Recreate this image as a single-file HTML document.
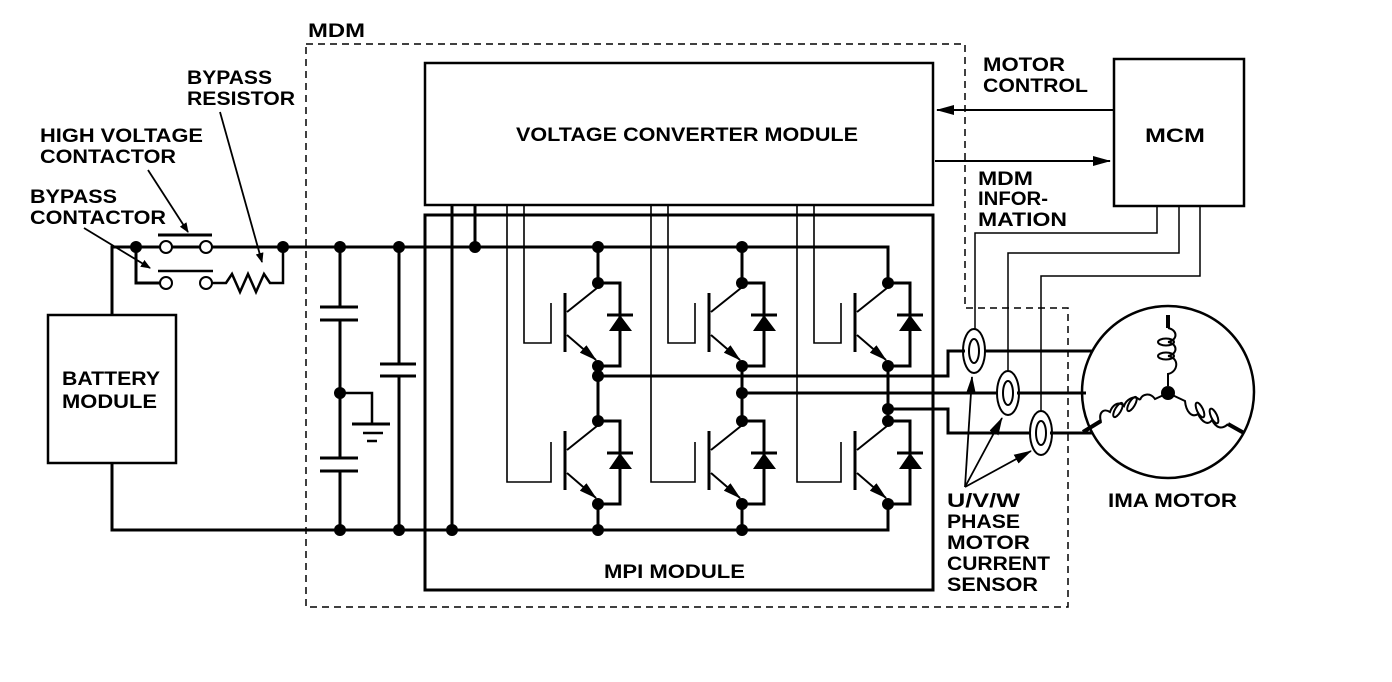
<!DOCTYPE html>
<html><head><meta charset="utf-8"><style>
html,body{margin:0;padding:0;background:#fff;}
svg{display:block;}
text{font-family:"Liberation Sans",sans-serif;font-weight:bold;font-size:19px;fill:#000;}
</style></head><body>
<svg width="1392" height="682" viewBox="0 0 1392 682" xmlns="http://www.w3.org/2000/svg">
<defs>
<marker id="ah" markerWidth="10" markerHeight="8" refX="9" refY="4" orient="auto" markerUnits="userSpaceOnUse" viewBox="0 0 10 8">
<path d="M0,0 L10,4 L0,8 Z" fill="#000"/></marker>
<marker id="ah2" markerWidth="18" markerHeight="10" refX="17" refY="5" orient="auto" markerUnits="userSpaceOnUse" viewBox="0 0 18 10">
<path d="M0,0 L18,5 L0,10 Z" fill="#000"/></marker>
</defs>
<g fill="none" stroke="#000">
<path d="M306,44 H965 V308 H1068 V607 H306 Z" stroke-width="1.5" stroke-dasharray="7,5"/>
<rect x="425" y="63" width="508" height="142" stroke-width="2.5"/>
<rect x="425" y="215" width="508" height="375" stroke-width="3"/>
<rect x="1114" y="59" width="130" height="147" stroke-width="2.5"/>
<rect x="48" y="315" width="128" height="148" stroke-width="2.5"/>
<path d="M112,315 V247 H888 V283" stroke-width="3"/>
<path d="M112,463 V530 H888 V502" stroke-width="3"/>
<path d="M136,247 V283 H160" stroke-width="3"/>
<path d="M158,235 H212" stroke-width="3"/>
<path d="M158,271 H213" stroke-width="2.5"/>
<path d="M212,283 H226 L232,274 L240,292 L248,274 L256,292 L264,274 L270,283 H283 V247" stroke-width="2.5"/>
<path d="M340,247 V307 M340,320 V458 M340,471 V530" stroke-width="3"/>
<path d="M320,307 H358 M320,320 H358 M320,458 H358 M320,471 H358" stroke-width="3"/>
<path d="M399,247 V364 M399,376 V530" stroke-width="3"/>
<path d="M380,364 H416 M380,376 H416" stroke-width="3"/>
<path d="M340,393 H372 V424" stroke-width="2.5"/>
<path d="M352,424 H390" stroke-width="3"/>
<path d="M363,433 H383 M367,441 H377" stroke-width="2.5"/>
<path d="M452,205 V530 M475,205 V247" stroke-width="3"/>
<path d="M1113,110 H937" stroke-width="2" marker-end="url(#ah2)"/>
<path d="M935,161 H1110" stroke-width="2" marker-end="url(#ah2)"/>
<path d="M220,112 L262,262" stroke-width="1.8" marker-end="url(#ah)"/>
<path d="M148,170 L188,232" stroke-width="1.8" marker-end="url(#ah)"/>
<path d="M84,228 L150,268" stroke-width="1.8" marker-end="url(#ah)"/>
<path d="M598,376 H948 V351 H965" stroke-width="3"/>
<path d="M742,393 H998" stroke-width="3"/>
<path d="M888,409 H948 V433 H1031" stroke-width="3"/>
<path d="M984,351 H1093 M1017,393 H1086 M1050,433 H1093" stroke-width="3"/>
<path d="M1157,206 V233 H975 V329" stroke-width="1.5"/>
<path d="M1179,206 V253 H1008 V371" stroke-width="1.5"/>
<path d="M1200,206 V276 H1041 V411" stroke-width="1.5"/>
<ellipse cx="974" cy="351" rx="11" ry="22" stroke-width="2"/>
<ellipse cx="974" cy="351" rx="5" ry="12" stroke-width="2"/>
<ellipse cx="1008" cy="393" rx="11" ry="22" stroke-width="2"/>
<ellipse cx="1008" cy="393" rx="5" ry="12" stroke-width="2"/>
<ellipse cx="1041" cy="433" rx="11" ry="22" stroke-width="2"/>
<ellipse cx="1041" cy="433" rx="5" ry="12" stroke-width="2"/>
<path d="M965,487 L972,377" stroke-width="1.8" marker-end="url(#ah2)"/>
<path d="M965,487 L1002,418" stroke-width="1.8" marker-end="url(#ah2)"/>
<path d="M965,487 L1031,451" stroke-width="1.8" marker-end="url(#ah2)"/>
<circle cx="1168" cy="392" r="86" stroke-width="2.5"/>
<!-- top winding -->
<path d="M1168,315 V328" stroke-width="4"/>
<path d="M1168,328 C1178,330 1178,340 1168,342 M1168,342 C1178,344 1178,354 1168,356 M1168,356 C1180,358 1178,372 1168,374 V386" stroke-width="2"/>
<ellipse cx="1166" cy="342" rx="8" ry="3.5" stroke-width="2"/>
<ellipse cx="1166" cy="356" rx="8" ry="3.5" stroke-width="2"/>
<!-- left winding -->
<path d="M1168,393 L1155,399 C1150,392 1142,394 1140,400" stroke-width="2"/>
<path d="M1140,400 C1134,394 1126,400 1124,406 C1118,400 1112,406 1110,412 C1104,408 1098,412 1101,422" stroke-width="2"/>
<ellipse cx="1132" cy="404" rx="3" ry="8" transform="rotate(30 1132 404)" stroke-width="2"/>
<ellipse cx="1118" cy="410" rx="3" ry="8" transform="rotate(30 1118 410)" stroke-width="2"/>
<path d="M1101,421 L1083,432" stroke-width="4"/>
<!-- right winding -->
<path d="M1168,393 L1185,401 C1186,412 1192,418 1198,414" stroke-width="2"/>
<path d="M1198,414 C1202,422 1208,426 1212,420 C1216,428 1222,430 1228,424" stroke-width="2"/>
<ellipse cx="1200" cy="410" rx="3" ry="8" transform="rotate(-25 1200 410)" stroke-width="2"/>
<ellipse cx="1214" cy="416" rx="3" ry="8" transform="rotate(-25 1214 416)" stroke-width="2"/>
<path d="M1228,424 L1244,433" stroke-width="4"/>
</g>
<g fill="#000" stroke="none">
<circle cx="1168" cy="393" r="7"/>
</g>
<g fill="#fff" stroke="#000" stroke-width="2">
<circle cx="166" cy="247" r="6"/><circle cx="206" cy="247" r="6"/>
<circle cx="166" cy="283" r="6"/><circle cx="206" cy="283" r="6"/>
</g>
<g fill="#000">
<circle cx="136" cy="247" r="6"/><circle cx="283" cy="247" r="6"/>
<circle cx="340" cy="247" r="6"/><circle cx="399" cy="247" r="6"/><circle cx="475" cy="247" r="6"/>
<circle cx="340" cy="393" r="6"/>
<circle cx="340" cy="530" r="6"/><circle cx="399" cy="530" r="6"/><circle cx="452" cy="530" r="6"/>
</g>
<g>
<g transform="translate(0,0)">
<g fill="none" stroke="#000">
<path d="M598,247 V283 M598,366 V420 M598,502 V530" stroke-width="3"/>
<path d="M524,205 V343 H551 V303" stroke-width="1.6"/>
<path d="M507,205 V482 H551 V442" stroke-width="1.6"/>
</g>
<g fill="#000"><circle cx="598" cy="247" r="6"/><circle cx="598" cy="376" r="6"/><circle cx="598" cy="530" r="6"/></g>
</g>
<g transform="translate(144,0)">
<g fill="none" stroke="#000">
<path d="M598,247 V283 M598,366 V420 M598,502 V530" stroke-width="3"/>
<path d="M524,205 V343 H551 V303" stroke-width="1.6"/>
<path d="M507,205 V482 H551 V442" stroke-width="1.6"/>
</g>
<g fill="#000"><circle cx="598" cy="247" r="6"/><circle cx="598" cy="393" r="6"/><circle cx="598" cy="530" r="6"/></g>
</g>
<g transform="translate(290,0)">
<g fill="none" stroke="#000">
<path d="M598,366 V420" stroke-width="3"/>
<path d="M524,205 V343 H551 V303" stroke-width="1.6"/>
<path d="M507,205 V482 H551 V442" stroke-width="1.6"/>
</g>
<g fill="#000"><circle cx="598" cy="409" r="6"/></g>
</g>
</g>
<g>
<g transform="translate(0,0)"><g fill="none" stroke="#000"><path d="M598,283 H620 V366 H598" stroke-width="3"/><path d="M607,315 H633" stroke-width="3"/><path d="M565,293 V352" stroke-width="3"/><path d="M567,312 L597,288" stroke-width="2"/><path d="M567,335 L596,360" stroke-width="2" marker-end="url(#ah2)"/></g><g fill="#000"><path d="M620,315 L609,331 L632,331 Z"/><circle cx="598" cy="283" r="6"/><circle cx="598" cy="366" r="6"/></g></g>
<g transform="translate(0,138)"><g fill="none" stroke="#000"><path d="M598,283 H620 V366 H598" stroke-width="3"/><path d="M607,315 H633" stroke-width="3"/><path d="M565,293 V352" stroke-width="3"/><path d="M567,312 L597,288" stroke-width="2"/><path d="M567,335 L596,360" stroke-width="2" marker-end="url(#ah2)"/></g><g fill="#000"><path d="M620,315 L609,331 L632,331 Z"/><circle cx="598" cy="283" r="6"/><circle cx="598" cy="366" r="6"/></g></g>
<g transform="translate(144,0)"><g fill="none" stroke="#000"><path d="M598,283 H620 V366 H598" stroke-width="3"/><path d="M607,315 H633" stroke-width="3"/><path d="M565,293 V352" stroke-width="3"/><path d="M567,312 L597,288" stroke-width="2"/><path d="M567,335 L596,360" stroke-width="2" marker-end="url(#ah2)"/></g><g fill="#000"><path d="M620,315 L609,331 L632,331 Z"/><circle cx="598" cy="283" r="6"/><circle cx="598" cy="366" r="6"/></g></g>
<g transform="translate(144,138)"><g fill="none" stroke="#000"><path d="M598,283 H620 V366 H598" stroke-width="3"/><path d="M607,315 H633" stroke-width="3"/><path d="M565,293 V352" stroke-width="3"/><path d="M567,312 L597,288" stroke-width="2"/><path d="M567,335 L596,360" stroke-width="2" marker-end="url(#ah2)"/></g><g fill="#000"><path d="M620,315 L609,331 L632,331 Z"/><circle cx="598" cy="283" r="6"/><circle cx="598" cy="366" r="6"/></g></g>
<g transform="translate(290,0)"><g fill="none" stroke="#000"><path d="M598,283 H620 V366 H598" stroke-width="3"/><path d="M607,315 H633" stroke-width="3"/><path d="M565,293 V352" stroke-width="3"/><path d="M567,312 L597,288" stroke-width="2"/><path d="M567,335 L596,360" stroke-width="2" marker-end="url(#ah2)"/></g><g fill="#000"><path d="M620,315 L609,331 L632,331 Z"/><circle cx="598" cy="283" r="6"/><circle cx="598" cy="366" r="6"/></g></g>
<g transform="translate(290,138)"><g fill="none" stroke="#000"><path d="M598,283 H620 V366 H598" stroke-width="3"/><path d="M607,315 H633" stroke-width="3"/><path d="M565,293 V352" stroke-width="3"/><path d="M567,312 L597,288" stroke-width="2"/><path d="M567,335 L596,360" stroke-width="2" marker-end="url(#ah2)"/></g><g fill="#000"><path d="M620,315 L609,331 L632,331 Z"/><circle cx="598" cy="283" r="6"/><circle cx="598" cy="366" r="6"/></g></g>
</g>
<text x="308" y="37" textLength="57" lengthAdjust="spacingAndGlyphs">MDM</text>
<text x="187" y="84" textLength="85" lengthAdjust="spacingAndGlyphs">BYPASS</text>
<text x="187" y="105" textLength="108" lengthAdjust="spacingAndGlyphs">RESISTOR</text>
<text x="40" y="142" textLength="163" lengthAdjust="spacingAndGlyphs">HIGH VOLTAGE</text>
<text x="40" y="163" textLength="136" lengthAdjust="spacingAndGlyphs">CONTACTOR</text>
<text x="30" y="203" textLength="87" lengthAdjust="spacingAndGlyphs">BYPASS</text>
<text x="30" y="224" textLength="136" lengthAdjust="spacingAndGlyphs">CONTACTOR</text>
<text x="62" y="385" textLength="98" lengthAdjust="spacingAndGlyphs">BATTERY</text>
<text x="62" y="408" textLength="95" lengthAdjust="spacingAndGlyphs">MODULE</text>
<text x="516" y="141" textLength="342" lengthAdjust="spacingAndGlyphs">VOLTAGE CONVERTER MODULE</text>
<text x="983" y="71" textLength="82" lengthAdjust="spacingAndGlyphs">MOTOR</text>
<text x="983" y="92" textLength="105" lengthAdjust="spacingAndGlyphs">CONTROL</text>
<text x="1145" y="142" textLength="60" lengthAdjust="spacingAndGlyphs">MCM</text>
<text x="978" y="185" textLength="55" lengthAdjust="spacingAndGlyphs">MDM</text>
<text x="978" y="205" textLength="70" lengthAdjust="spacingAndGlyphs">INFOR-</text>
<text x="978" y="226" textLength="89" lengthAdjust="spacingAndGlyphs">MATION</text>
<text x="604" y="578" textLength="141" lengthAdjust="spacingAndGlyphs">MPI MODULE</text>
<text x="947" y="507" textLength="73" lengthAdjust="spacingAndGlyphs">U/V/W</text>
<text x="947" y="528" textLength="73" lengthAdjust="spacingAndGlyphs">PHASE</text>
<text x="947" y="549" textLength="83" lengthAdjust="spacingAndGlyphs">MOTOR</text>
<text x="947" y="570" textLength="103" lengthAdjust="spacingAndGlyphs">CURRENT</text>
<text x="947" y="591" textLength="91" lengthAdjust="spacingAndGlyphs">SENSOR</text>
<text x="1108" y="507" textLength="129" lengthAdjust="spacingAndGlyphs">IMA MOTOR</text>
</svg>
</body></html>
